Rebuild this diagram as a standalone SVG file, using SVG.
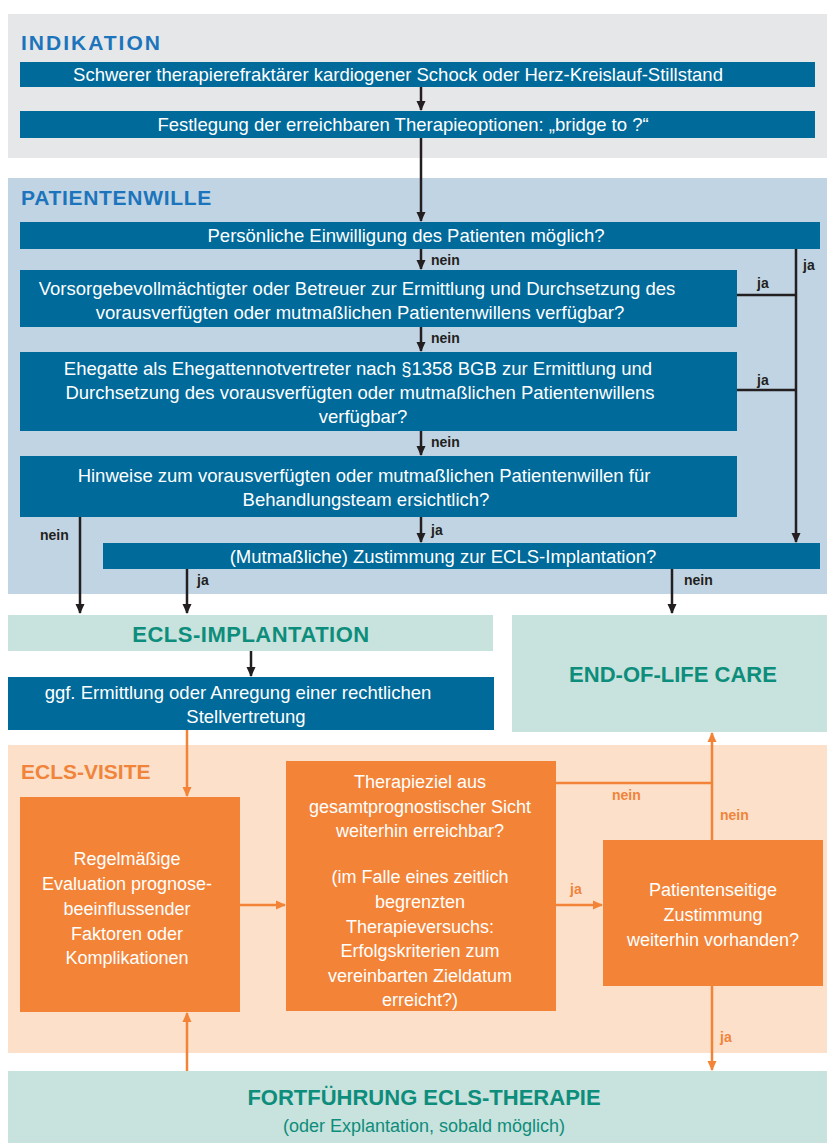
<svg xmlns="http://www.w3.org/2000/svg" width="827" height="1146" viewBox="0 0 827 1146">
<style>
.t{font-family:"Liberation Sans",Arial,sans-serif;font-size:18.5px;fill:#ffffff;text-anchor:middle}
.o{font-family:"Liberation Sans",Arial,sans-serif;font-size:18px;fill:#ffffff;text-anchor:middle}
.h{font-family:"Liberation Sans",Arial,sans-serif;font-size:21px;font-weight:bold}
.g{font-family:"Liberation Sans",Arial,sans-serif;font-weight:bold;fill:#0d8d7b;text-anchor:middle;font-size:22px}
.lb{font-family:"Liberation Sans",Arial,sans-serif;font-size:14px;font-weight:bold;fill:#231f20}
.lo{font-family:"Liberation Sans",Arial,sans-serif;font-size:14px;font-weight:bold;fill:#f0843a}
.blue{fill:#006a9a}
.org{fill:#f38437}
.teal{fill:#c8e2dd}
.k{stroke:#231f20;stroke-width:2.5;fill:none}
.ko{stroke:#f38437;stroke-width:2.5;fill:none}
</style>
<defs>
<marker id="ak" markerWidth="10" markerHeight="10" refX="9" refY="5" orient="auto" markerUnits="userSpaceOnUse"><path d="M0,0.5 L10,5 L0,9.5 Z" fill="#231f20"/></marker>
<marker id="ao" markerWidth="10" markerHeight="10" refX="9" refY="5" orient="auto" markerUnits="userSpaceOnUse"><path d="M0,0.5 L10,5 L0,9.5 Z" fill="#f38437"/></marker>
</defs>
<rect width="827" height="1146" fill="#ffffff"/>
<g id="panel-indikation">
<rect x="8" y="14" width="819" height="144" fill="#e6e7e9"/>
<text class="h" x="21" y="50" fill="#1c75bc" letter-spacing="2">INDIKATION</text>
</g>
<g id="panel-patientenwille">
<rect x="8" y="178" width="819" height="416" fill="#c1d4e3"/>
<text class="h" x="21" y="205" fill="#1c75bc" letter-spacing="0.7">PATIENTENWILLE</text>
</g>
<g id="panel-visite">
<rect x="8" y="745" width="819" height="308" fill="#fce0ca"/>
<text class="h" x="21" y="779" fill="#f0843a">ECLS-VISITE</text>
</g>
<g id="n1"><rect class="blue" x="20" y="62" width="795" height="25"/><text class="t" x="398" y="81">Schwerer therapierefraktärer kardiogener Schock oder Herz-Kreislauf-Stillstand</text></g>
<g id="n2"><rect class="blue" x="20" y="111" width="795" height="27"/><text class="t" x="403" y="131">Festlegung der erreichbaren Therapieoptionen: „bridge to ?“</text></g>
<g id="n3"><rect class="blue" x="20" y="222" width="800" height="27"/><text class="t" x="406" y="242">Persönliche Einwilligung des Patienten möglich?</text></g>
<g id="n4"><rect class="blue" x="20" y="270" width="717" height="57"/><text class="t" x="357" y="295">Vorsorgebevollmächtigter oder Betreuer zur Ermittlung und Durchsetzung des</text><text class="t" x="360" y="319">vorausverfügten oder mutmaßlichen Patientenwillens verfügbar?</text></g>
<g id="n5"><rect class="blue" x="20" y="352" width="717" height="79"/><text class="t" x="358" y="375">Ehegatte als Ehegattennotvertreter nach §1358 BGB zur Ermittlung und</text><text class="t" x="360" y="399">Durchsetzung des vorausverfügten oder mutmaßlichen Patientenwillens</text><text class="t" x="363" y="423">verfügbar?</text></g>
<g id="n6"><rect class="blue" x="20" y="456" width="717" height="61"/><text class="t" x="364" y="482">Hinweise zum vorausverfügten oder mutmaßlichen Patientenwillen für</text><text class="t" x="366" y="506">Behandlungsteam ersichtlich?</text></g>
<g id="n7"><rect class="blue" x="103" y="543" width="717" height="26"/><text class="t" x="443" y="563">(Mutmaßliche) Zustimmung zur ECLS-Implantation?</text></g>
<g id="n-implant"><rect class="teal" x="8" y="615" width="485" height="36"/><text class="g" x="251" y="642" letter-spacing="0.5">ECLS-IMPLANTATION</text></g>
<g id="n-eol"><rect class="teal" x="512" y="615" width="315" height="117"/><text class="g" x="673" y="682">END-OF-LIFE CARE</text></g>
<g id="n-ggf"><rect class="blue" x="8" y="677" width="486" height="53"/><text class="t" x="238" y="699">ggf. Ermittlung oder Anregung einer rechtlichen</text><text class="t" x="246" y="723">Stellvertretung</text></g>
<g id="n-regel"><rect class="org" x="20" y="797" width="220" height="215"/>
<text class="o" x="127" y="865">Regelmäßige</text><text class="o" x="127" y="890">Evaluation prognose-</text><text class="o" x="127" y="915">beeinflussender</text><text class="o" x="127" y="940">Faktoren oder</text><text class="o" x="127" y="964">Komplikationen</text></g>
<g id="n-ziel"><rect class="org" x="286" y="761" width="270" height="250"/>
<text class="o" x="420" y="788">Therapieziel aus</text><text class="o" x="420" y="813">gesamtprognostischer Sicht</text><text class="o" x="420" y="837">weiterhin erreichbar?</text><text class="o" x="420" y="883">(im Falle eines zeitlich</text><text class="o" x="420" y="908">begrenzten</text><text class="o" x="420" y="933">Therapieversuchs:</text><text class="o" x="420" y="957">Erfolgskriterien zum</text><text class="o" x="420" y="982">vereinbarten Zieldatum</text><text class="o" x="420" y="1006">erreicht?)</text></g>
<g id="n-zust"><rect class="org" x="603" y="840" width="220" height="146"/>
<text class="o" x="713" y="896">Patientenseitige</text><text class="o" x="713" y="921">Zustimmung</text><text class="o" x="713" y="946">weiterhin vorhanden?</text></g>
<g id="n-fort"><rect class="teal" x="8" y="1071" width="819" height="72"/><text class="g" x="424" y="1105">FORTFÜHRUNG ECLS-THERAPIE</text><text x="424" y="1132" font-family="Liberation Sans, Arial, sans-serif" font-size="18" fill="#0d8d7b" text-anchor="middle">(oder Explantation, sobald möglich)</text></g>
<g id="connectors">
<line class="k" x1="421" y1="87" x2="421" y2="110" marker-end="url(#ak)"/>
<line class="k" x1="421" y1="138" x2="421" y2="221" marker-end="url(#ak)"/>
<line class="k" x1="421" y1="249" x2="421" y2="269" marker-end="url(#ak)"/>
<line class="k" x1="421" y1="327" x2="421" y2="351" marker-end="url(#ak)"/>
<line class="k" x1="421" y1="431" x2="421" y2="455" marker-end="url(#ak)"/>
<line class="k" x1="421" y1="517" x2="421" y2="542" marker-end="url(#ak)"/>
<line class="k" x1="796" y1="249" x2="796" y2="542" marker-end="url(#ak)"/>
<line class="k" x1="737" y1="295" x2="796" y2="295"/>
<line class="k" x1="737" y1="390" x2="796" y2="390"/>
<line class="k" x1="80" y1="517" x2="80" y2="613" marker-end="url(#ak)"/>
<line class="k" x1="187" y1="569" x2="187" y2="613" marker-end="url(#ak)"/>
<line class="k" x1="672" y1="569" x2="672" y2="613" marker-end="url(#ak)"/>
<line class="k" x1="251" y1="651" x2="251" y2="676" marker-end="url(#ak)"/>
<line class="ko" x1="187" y1="730" x2="187" y2="796" marker-end="url(#ao)"/>
<line class="ko" x1="240" y1="905" x2="285" y2="905" marker-end="url(#ao)"/>
<line class="ko" x1="556" y1="905" x2="602" y2="905" marker-end="url(#ao)"/>
<polyline class="ko" points="556,783 712,783"/>
<line class="ko" x1="712" y1="840" x2="712" y2="733" marker-end="url(#ao)"/>
<line class="ko" x1="712" y1="986" x2="712" y2="1070" marker-end="url(#ao)"/>
<line class="ko" x1="187" y1="1071" x2="187" y2="1013" marker-end="url(#ao)"/>
<text class="lb" x="431" y="265">nein</text>
<text class="lb" x="803" y="270">ja</text>
<text class="lb" x="757" y="288">ja</text>
<text class="lb" x="431" y="343">nein</text>
<text class="lb" x="757" y="385">ja</text>
<text class="lb" x="431" y="447">nein</text>
<text class="lb" x="431" y="535">ja</text>
<text class="lb" x="40" y="540">nein</text>
<text class="lb" x="197" y="585">ja</text>
<text class="lb" x="684" y="585">nein</text>
<text class="lo" x="612" y="800">nein</text>
<text class="lo" x="720" y="820">nein</text>
<text class="lo" x="570" y="894">ja</text>
<text class="lo" x="720" y="1042">ja</text>
</g>
</svg>
